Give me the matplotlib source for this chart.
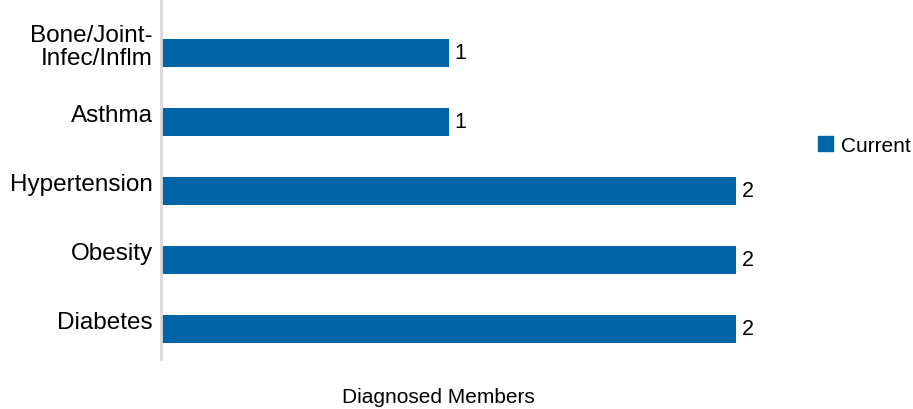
import matplotlib.pyplot as plt
import matplotlib.transforms as mtransforms
from matplotlib.patches import Patch

categories = ["Diabetes", "Obesity", "Hypertension", "Asthma", "Bone/Joint-\nInfec/Inflm"]
values = [2, 2, 2, 1, 1]
series_name = "Current"
color = "#0064a8"

plt.rcParams['font.family'] = ['Liberation Sans', 'DejaVu Sans']

fig = plt.figure(figsize=(9.13, 4.1), dpi=100)
ax = fig.add_axes([161/913, 1 - 360/410, (736 - 161)/913, 360/410])

pos = list(range(len(categories)))
ax.barh(pos, values, height=0.41, color=color)
ax.set_xlim(0, 2)
ax.set_ylim(-0.435, 4.78)

for p, v in zip(pos, values):
    ax.annotate(str(v), (v, p), xytext=(4, 0), textcoords="offset points",
                va="center", ha="left", fontsize=15.5)

ax.set_yticks(pos)
ax.set_yticklabels(categories, fontsize=17.5, linespacing=1.05)
ax.tick_params(axis="y", length=0, pad=6)
shift = mtransforms.ScaledTranslation(0, 0.09, fig.dpi_scale_trans)
for lbl in ax.get_yticklabels():
    lbl.set_transform(lbl.get_transform() + shift)

ax.set_xticks([])
for s in ["top", "right", "bottom"]:
    ax.spines[s].set_visible(False)
ax.spines["left"].set_color("#d9d9d9")
ax.spines["left"].set_linewidth(2)

fig.text(438/913, 1 - 398/410, "Diagnosed Members", ha="center", va="center", fontsize=15)

fig.legend(handles=[Patch(color=color, label=series_name)], loc="center left",
           bbox_to_anchor=(810/913, 1 - 146/410), frameon=False, fontsize=15,
           handlelength=0.7, handleheight=0.7, handletextpad=0.4, borderaxespad=0)

fig.savefig("out.png", dpi=100)
